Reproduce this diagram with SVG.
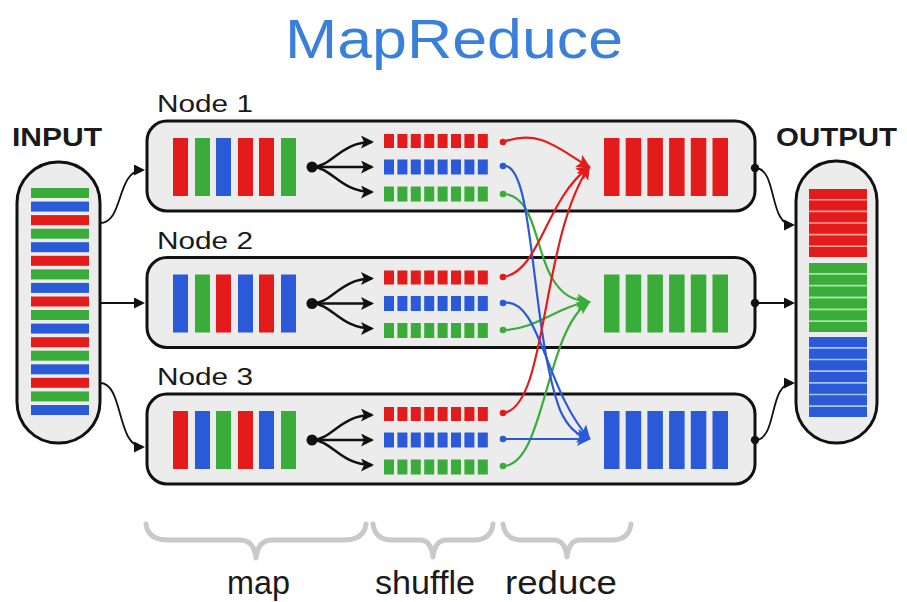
<svg xmlns="http://www.w3.org/2000/svg" width="907" height="602" viewBox="0 0 907 602">
<style>
.box{fill:#ececec;stroke:#111;stroke-width:3}
.lbl{font-family:"Liberation Sans",Arial,sans-serif;fill:#1a1a1a}
.hd{font-family:"Liberation Sans",Arial,sans-serif;font-weight:bold;fill:#1a1a1a}
.r{fill:#e31b1b}.g{fill:#3aac3a}.b{fill:#2a5ad8}
.fan{fill:none;stroke:#111;stroke-width:2.5}
.io{fill:none;stroke:#111;stroke-width:1.8}
.sh{fill:none;stroke-width:2.2}
.brace{fill:none;stroke:#c9c9c9;stroke-width:5;stroke-linecap:round;stroke-linejoin:round}
</style>
<defs>
<marker id="ak" markerUnits="userSpaceOnUse" markerWidth="14" markerHeight="14" refX="11" refY="6.5" orient="auto"><path d="M0,0 L13,6.5 L0,13 L3,6.5 z" fill="#111"/></marker>
<marker id="ai" markerUnits="userSpaceOnUse" markerWidth="12" markerHeight="12" refX="9" refY="5.5" orient="auto"><path d="M0,0 L11,5.5 L0,11 z" fill="#111"/></marker>
<marker id="ar" markerUnits="userSpaceOnUse" markerWidth="16" markerHeight="16" refX="12" refY="7" orient="auto"><path d="M0,0 L14,7 L0,14 L3,7 z" fill="#e31b1b"/></marker>
<marker id="ag" markerUnits="userSpaceOnUse" markerWidth="16" markerHeight="16" refX="12" refY="7" orient="auto"><path d="M0,0 L14,7 L0,14 L3,7 z" fill="#3aac3a"/></marker>
<marker id="ab" markerUnits="userSpaceOnUse" markerWidth="16" markerHeight="16" refX="12" refY="7" orient="auto"><path d="M0,0 L14,7 L0,14 L3,7 z" fill="#2a5ad8"/></marker>
<marker id="dr" markerUnits="userSpaceOnUse" markerWidth="8" markerHeight="8" refX="4" refY="4"><circle cx="4" cy="4" r="3.3" fill="#e31b1b"/></marker>
<marker id="dg" markerUnits="userSpaceOnUse" markerWidth="8" markerHeight="8" refX="4" refY="4"><circle cx="4" cy="4" r="3.3" fill="#3aac3a"/></marker>
<marker id="db" markerUnits="userSpaceOnUse" markerWidth="8" markerHeight="8" refX="4" refY="4"><circle cx="4" cy="4" r="3.3" fill="#2a5ad8"/></marker>
<marker id="dk" markerUnits="userSpaceOnUse" markerWidth="10" markerHeight="10" refX="5" refY="5"><circle cx="5" cy="5" r="4.2" fill="#111"/></marker>
<g id="fanTpl">
<circle cx="312" cy="167" r="5.5" fill="#111"/>
<path class="fan" d="M312,167 C332,167 340,142 372,142" marker-end="url(#ak)"/>
<path class="fan" d="M312,167 L372,167" marker-end="url(#ak)"/>
<path class="fan" d="M312,167 C332,167 340,192 372,192" marker-end="url(#ak)"/>
<line x1="384" x2="488" y1="141" y2="141" stroke="#e31b1b" stroke-width="14" stroke-dasharray="10 3.4"/>
<line x1="384" x2="488" y1="167" y2="167" stroke="#2a5ad8" stroke-width="15" stroke-dasharray="10 3.4"/>
<line x1="384" x2="488" y1="194" y2="194" stroke="#3aac3a" stroke-width="15" stroke-dasharray="10 3.4"/>
</g>
</defs>

<g id="title"><text x="285" y="58" font-family="'Liberation Sans',Arial,sans-serif" font-size="56" fill="#3a7fd9" textLength="338" lengthAdjust="spacingAndGlyphs">MapReduce</text></g>

<g id="input">
<text class="hd" x="12" y="146" font-size="25" textLength="90" lengthAdjust="spacingAndGlyphs">INPUT</text>
<rect class="box" x="17" y="162" width="83" height="281" rx="41"/>
<rect class="g" x="31" y="188" width="58" height="10"/>
<rect class="b" x="31" y="201.6" width="58" height="10"/>
<rect class="r" x="31" y="215.1" width="58" height="10"/>
<rect class="g" x="31" y="228.7" width="58" height="10"/>
<rect class="b" x="31" y="242.2" width="58" height="10"/>
<rect class="r" x="31" y="255.8" width="58" height="10"/>
<rect class="g" x="31" y="269.4" width="58" height="10"/>
<rect class="b" x="31" y="282.9" width="58" height="10"/>
<rect class="r" x="31" y="296.5" width="58" height="10"/>
<rect class="g" x="31" y="310" width="58" height="10"/>
<rect class="b" x="31" y="323.6" width="58" height="10"/>
<rect class="r" x="31" y="337.2" width="58" height="10"/>
<rect class="g" x="31" y="350.7" width="58" height="10"/>
<rect class="b" x="31" y="364.3" width="58" height="10"/>
<rect class="r" x="31" y="377.8" width="58" height="10"/>
<rect class="g" x="31" y="391.4" width="58" height="10"/>
<rect class="b" x="31" y="405" width="58" height="10"/>
</g>

<g id="node1">
<text class="lbl" x="157" y="112" font-size="23" textLength="96" lengthAdjust="spacingAndGlyphs">Node 1</text>
<rect class="box" x="147" y="121" width="608" height="90" rx="20"/>
<rect class="r" x="173" y="138" width="15" height="58"/>
<rect class="g" x="195" y="138" width="15" height="58"/>
<rect class="b" x="216" y="138" width="15" height="58"/>
<rect class="r" x="238" y="138" width="15" height="58"/>
<rect class="r" x="259" y="138" width="15" height="58"/>
<rect class="g" x="281" y="138" width="15" height="58"/>
<use href="#fanTpl"/>
<line x1="604" x2="728" y1="167" y2="167" stroke="#e31b1b" stroke-width="58" stroke-dasharray="15.5 6.2"/>
</g>

<g id="node2" transform="translate(0,136.5)">
<text class="lbl" x="157" y="112" font-size="23" textLength="96" lengthAdjust="spacingAndGlyphs">Node 2</text>
<rect class="box" x="147" y="121" width="608" height="90" rx="20"/>
<rect class="b" x="173" y="138" width="15" height="58"/>
<rect class="g" x="195" y="138" width="15" height="58"/>
<rect class="r" x="216" y="138" width="15" height="58"/>
<rect class="b" x="238" y="138" width="15" height="58"/>
<rect class="r" x="259" y="138" width="15" height="58"/>
<rect class="b" x="281" y="138" width="15" height="58"/>
<use href="#fanTpl"/>
<line x1="604" x2="728" y1="167" y2="167" stroke="#3aac3a" stroke-width="58" stroke-dasharray="15.5 6.2"/>
</g>

<g id="node3" transform="translate(0,273)">
<text class="lbl" x="157" y="112" font-size="23" textLength="96" lengthAdjust="spacingAndGlyphs">Node 3</text>
<rect class="box" x="147" y="121" width="608" height="90" rx="20"/>
<rect class="r" x="173" y="138" width="15" height="58"/>
<rect class="b" x="195" y="138" width="15" height="58"/>
<rect class="g" x="216" y="138" width="15" height="58"/>
<rect class="r" x="238" y="138" width="15" height="58"/>
<rect class="b" x="259" y="138" width="15" height="58"/>
<rect class="g" x="281" y="138" width="15" height="58"/>
<use href="#fanTpl"/>
<line x1="604" x2="728" y1="167" y2="167" stroke="#2a5ad8" stroke-width="58" stroke-dasharray="15.5 6.2"/>
</g>

<g id="output">
<text class="hd" x="776" y="146" font-size="25" textLength="121" lengthAdjust="spacingAndGlyphs">OUTPUT</text>
<rect class="box" x="796" y="161" width="81" height="282" rx="40"/>
<rect x="809" y="189" width="58" height="68" fill="#f5a3a0"/>
<line x1="838" x2="838" y1="189" y2="257" stroke="#e31b1b" stroke-width="58" stroke-dasharray="10 1.6"/>
<rect x="809" y="263" width="58" height="69" fill="#a9e3a5"/>
<line x1="838" x2="838" y1="263" y2="332" stroke="#3aac3a" stroke-width="58" stroke-dasharray="10 1.8"/>
<rect x="809" y="337" width="58" height="80" fill="#a9c3f2"/>
<line x1="838" x2="838" y1="337" y2="417" stroke="#2a5ad8" stroke-width="58" stroke-dasharray="10 1.67"/>
</g>

<g id="connectors">
<path class="io" d="M100,223 C124,223 116,170 143,170" marker-end="url(#ai)"/>
<path class="io" d="M100,303 L143,303" marker-end="url(#ai)"/>
<path class="io" d="M100,383 C124,383 116,447 143,447" marker-end="url(#ai)"/>
<path class="io" d="M755,168 C778,168 768,225 793,225" marker-start="url(#dk)" marker-end="url(#ai)"/>
<path class="io" d="M755,303 L793,303" marker-start="url(#dk)" marker-end="url(#ai)"/>
<path class="io" d="M755,440 C778,440 768,383 793,383" marker-start="url(#dk)" marker-end="url(#ai)"/>

<path class="sh" stroke="#3aac3a" d="M503,194 C535,194 535,250 552,278 C562,295 572,300 589,302" marker-start="url(#dg)" marker-end="url(#ag)"/>
<path class="sh" stroke="#3aac3a" d="M503,330 C535,330 560,305 589,302" marker-start="url(#dg)" marker-end="url(#ag)"/>
<path class="sh" stroke="#3aac3a" d="M503,466 C545,466 545,330 589,302" marker-start="url(#dg)" marker-end="url(#ag)"/>

<path class="sh" stroke="#2a5ad8" d="M503,166 C535,160 530,330 560,410 C568,428 578,436 589,438" marker-start="url(#db)" marker-end="url(#ab)"/>
<path class="sh" stroke="#2a5ad8" d="M503,303 C540,296 545,390 589,438" marker-start="url(#db)" marker-end="url(#ab)"/>
<path class="sh" stroke="#2a5ad8" d="M503,439 L589,439" marker-start="url(#db)" marker-end="url(#ab)"/>

<path class="sh" stroke="#e31b1b" d="M503,142 C540,128 560,150 589,167" marker-start="url(#dr)" marker-end="url(#ar)"/>
<path class="sh" stroke="#e31b1b" d="M503,277 C540,272 545,200 589,167" marker-start="url(#dr)" marker-end="url(#ar)"/>
<path class="sh" stroke="#e31b1b" d="M503,413 C548,408 540,240 589,167" marker-start="url(#dr)" marker-end="url(#ar)"/>
</g>

<g id="braces">
<path class="brace" d="M146,524 Q148,540 168,540 L240,540 Q254,540 256,558 Q258,540 272,540 L344,540 Q364,540 366,524"/>
<path class="brace" d="M373,524 Q375,540 392,540 L420,540 Q431,540 433,557 Q435,540 446,540 L474,540 Q491,540 493,524"/>
<path class="brace" d="M503,524 Q505,540 522,540 L554,540 Q565,540 567,557 Q569,540 580,540 L612,540 Q629,540 631,524"/>
<text class="lbl" x="227" y="594" font-size="34" textLength="63" lengthAdjust="spacingAndGlyphs">map</text>
<text class="lbl" x="375" y="594" font-size="34" textLength="100" lengthAdjust="spacingAndGlyphs">shuffle</text>
<text class="lbl" x="505" y="594" font-size="34" textLength="112" lengthAdjust="spacingAndGlyphs">reduce</text>
</g>
</svg>
